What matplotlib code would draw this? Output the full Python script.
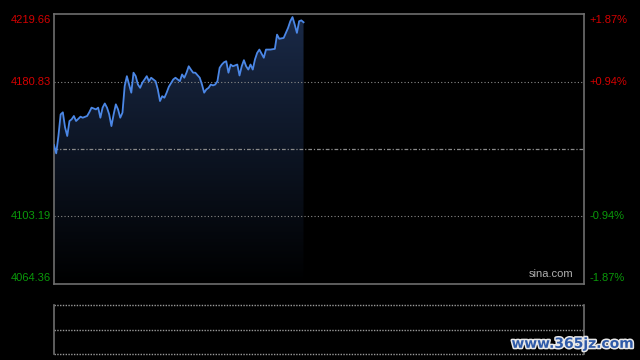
import numpy as np
import matplotlib
matplotlib.use('Agg')
import matplotlib.pyplot as plt
from matplotlib.patches import Polygon
import matplotlib.patheffects as pe

# intraday index, minutes since open (9:30) and price
minutes = [0, 1, 2, 3, 4, 5, 6, 7, 8, 9,
           10, 12, 13, 15, 16, 17, 19, 20, 21, 22,
           23, 24, 25, 26, 27, 28, 29, 30, 31, 32,
           33, 34, 35, 36, 37, 38, 39, 40, 41, 42,
           43, 44, 45, 46, 47, 48, 49, 50, 51, 52,
           54, 55, 57, 58, 59, 60, 61, 62, 63, 64,
           66, 67, 68, 69, 70, 71, 72, 73, 74, 75,
           76, 77, 78, 79, 80, 81, 83, 84, 85, 86,
           87, 88, 89, 90, 91, 92, 93, 95, 96, 97,
           98, 100, 101, 102, 104, 105, 106, 107, 108, 109,
           110, 111, 112, 113]
prices = [4144.3, 4139.5, 4149.5, 4161.9, 4163.1, 4154.5, 4149.5, 4158.1, 4159.1, 4161.0,
          4158.1, 4160.6, 4160.0, 4161.0, 4163.2, 4165.8, 4164.8, 4165.8, 4160.0, 4165.8,
          4168.2, 4165.8, 4161.9, 4155.2, 4161.9, 4167.7, 4164.8, 4160.0, 4162.9, 4178.2,
          4183.9, 4179.1, 4174.4, 4185.9, 4183.9, 4179.1, 4177.2, 4180.1, 4182.0, 4183.9,
          4181.0, 4183.0, 4182.0, 4181.0, 4176.3, 4169.6, 4172.4, 4171.5, 4174.4, 4177.8,
          4182.0, 4183.0, 4181.0, 4184.9, 4183.0, 4185.9, 4189.6, 4187.7, 4185.9, 4185.9,
          4183.0, 4179.1, 4174.4, 4176.3, 4177.2, 4179.1, 4178.6, 4179.1, 4181.0, 4188.7,
          4190.6, 4191.9, 4192.5, 4185.9, 4190.6, 4189.6, 4190.6, 4184.3, 4189.6, 4193.1,
          4189.6, 4187.7, 4190.6, 4187.7, 4193.5, 4197.3, 4199.2, 4194.5, 4199.2, 4199.2,
          4199.2, 4199.6, 4207.8, 4205.4, 4205.9, 4208.8, 4211.7, 4215.5, 4217.9, 4213.6,
          4208.8, 4215.5, 4216.0, 4214.9]

prev_close = 4142.01
price_ticks = [4219.66, 4180.83, 4103.19, 4064.36]
pct_labels = ['+1.87%', '+0.94%', '-0.94%', '-1.87%']
total_minutes = 240

RED = '#d40000'
GREEN = '#0a9a0a'
GRID = '#8a8a8a'
FRAME = '#6e6e6e'

fig = plt.figure(figsize=(6.4, 3.6), dpi=100, facecolor='black')
ax = fig.add_axes([54 / 640, 1 - 284 / 360, 530 / 640, 270 / 360])
vol = fig.add_axes([54 / 640, 1 - 354 / 360, 530 / 640, 49 / 360])

ymin, ymax = price_ticks[-1], price_ticks[0]
ax.set_facecolor('black')
ax.set_xlim(0, total_minutes)
ax.set_ylim(ymin, ymax)
ax.set_xticks([])
ax.set_yticks([])
for s in ax.spines.values():
  s.set_color(FRAME)
  s.set_linewidth(1.2)

# grid lines
for p in price_ticks[1:3]:
  ax.axhline(p, color=GRID, lw=0.8, linestyle=(0, (1, 2)))
ax.axhline(prev_close, color=GRID, lw=0.9, linestyle=(0, (3, 1.5, 1, 1.5)))

# gradient area under the line
x = np.array(minutes)
y = np.array(prices)
verts = [(x[0], ymin)] + list(zip(x, y)) + [(x[-1], ymin)]
poly = Polygon(verts, closed=True, facecolor='none', edgecolor='none')
ax.add_patch(poly)
grad = np.linspace(1, 0, 256).reshape(-1, 1)
top_rgb = np.array([26, 42, 72]) / 255.0
img = np.zeros((256, 1, 3))
for c in range(3):
  img[:, :, c] = grad * top_rgb[c]
im = ax.imshow(img, extent=[x[0], x[-1], ymin, ymax], aspect='auto',
               origin='upper', zorder=1, interpolation='bilinear')
im.set_clip_path(poly)

ax.plot(x, y, color='#4b87e6', lw=1.3, zorder=3)

# axis labels
font = 'Liberation Sans'
for p, lab, off in zip(price_ticks, pct_labels, [-6, 0, 0, 6]):
  col = RED if p > prev_close else GREEN
  ax.annotate(f'{p:.2f}', xy=(0, p), xycoords=('axes fraction', 'data'),
              xytext=(-2, off * 0.72), textcoords='offset points',
              ha='right', va='center', color=col, fontsize=8, family=font)
  ax.annotate(lab, xy=(1, p), xycoords=('axes fraction', 'data'),
              xytext=(4, off * 0.72), textcoords='offset points',
              ha='left', va='center', color=col, fontsize=8, family=font)

ax.text(0.979, 0.018, 'sina.com', transform=ax.transAxes, ha='right', va='bottom',
        color='#b0b0b0', fontsize=8, family=font)

# volume panel (empty)
vol.set_facecolor('black')
vol.set_xlim(0, total_minutes)
vol.set_ylim(0, 2)
vol.set_xticks([])
vol.set_yticks([])
for side in ['top', 'bottom']:
  vol.spines[side].set_visible(False)
for side in ['left', 'right']:
  vol.spines[side].set_color(FRAME)
  vol.spines[side].set_linewidth(1.2)
for lvl in [0, 1, 2]:
  vol.axhline(lvl, color='#9a9a9a', lw=1.0, linestyle=(0, (1, 1)), clip_on=False)

# watermark
fig.text(0.99, 0.045, 'www.365jz.com', ha='right', va='center', color='#2f5aa8',
         fontsize=10, fontweight='bold', family='DejaVu Sans',
         path_effects=[pe.withStroke(linewidth=2.2, foreground='#e8e8e8')])

fig.savefig('out.png', dpi=100, facecolor='black')
